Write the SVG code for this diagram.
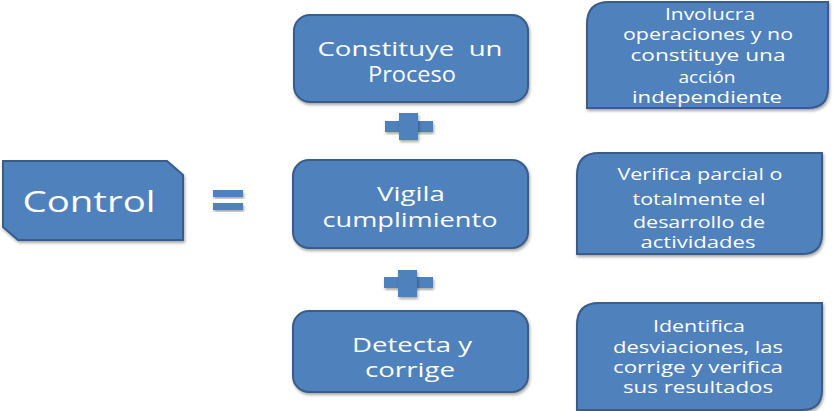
<svg xmlns="http://www.w3.org/2000/svg" width="836" height="411" viewBox="0 0 836 411">
<defs>
<filter id="sh" x="-10%" y="-10%" width="130%" height="130%">
<feDropShadow dx="1" dy="2" stdDeviation="1.5" flood-color="#000" flood-opacity="0.35"/>
</filter>
</defs>
<style>
.box{fill:#4f81bd;stroke:#385d8a;stroke-width:2;filter:url(#sh)}
.op{fill:#4f81bd;filter:url(#sh)}
text{font-family:"Open Sans","Noto Sans","Liberation Sans",sans-serif;fill:#fff;text-anchor:middle}
.m{font-size:20px}
.s{font-size:16px}
</style>
<rect width="836" height="411" fill="#fff"/>
<g id="control">
<path class="box" d="M3 161 H167 L183 175 V240 H18 L3 227 Z"/>
<text x="89" y="212" style="font-size:30px" textLength="133" lengthAdjust="spacingAndGlyphs">Control</text>
</g>
<g id="equals">
<rect class="op" x="213" y="190" width="30" height="7"/>
<rect class="op" x="213" y="203" width="30" height="7"/>
</g>
<g id="proceso">
<rect class="box" x="294" y="15" width="234" height="87" rx="16"/>
<text class="m" x="410" y="56" style="white-space:pre" textLength="185" lengthAdjust="spacingAndGlyphs">Constituye  un</text>
<text class="m" x="412" y="82" style="font-size:21px" textLength="88" lengthAdjust="spacingAndGlyphs">Proceso</text>
</g>
<g id="plus1">
<rect class="op" x="385" y="121" width="48" height="11"/>
<rect class="op" x="399" y="113" width="19" height="27"/>
</g>
<g id="vigila">
<rect class="box" x="293" y="160" width="235" height="88" rx="16"/>
<text class="m" x="411" y="201" textLength="68" lengthAdjust="spacingAndGlyphs">Vigila</text>
<text class="m" x="410" y="227" textLength="175" lengthAdjust="spacingAndGlyphs">cumplimiento</text>
</g>
<g id="plus2">
<rect class="op" x="384" y="277" width="49" height="11"/>
<rect class="op" x="398" y="270" width="19" height="27"/>
</g>
<g id="detecta">
<rect class="box" x="293" y="311" width="235" height="81" rx="16"/>
<text class="m" x="412" y="352" textLength="120" lengthAdjust="spacingAndGlyphs">Detecta y</text>
<text class="m" x="410" y="377" textLength="90" lengthAdjust="spacingAndGlyphs">corrige</text>
</g>
<g id="involucra">
<path class="box" d="M609 2 H828 V88 Q828 108 808 108 H587 V24 Q587 2 609 2 Z"/>
<text class="s" x="710" y="20" textLength="90" lengthAdjust="spacingAndGlyphs">Involucra</text>
<text class="s" x="708" y="40" textLength="170" lengthAdjust="spacingAndGlyphs">operaciones y no</text>
<text class="s" x="708" y="61" textLength="155" lengthAdjust="spacingAndGlyphs">constituye una</text>
<text class="s" x="707" y="83" textLength="57" lengthAdjust="spacingAndGlyphs">acción</text>
<text class="s" x="707" y="103" textLength="150" lengthAdjust="spacingAndGlyphs">independiente</text>
</g>
<g id="verifica">
<path class="box" d="M599 153 H822 V234 Q822 254 802 254 H577 V175 Q577 153 599 153 Z"/>
<text class="s" x="700" y="180" textLength="165" lengthAdjust="spacingAndGlyphs">Verifica parcial o</text>
<text class="s" x="699" y="205" textLength="133" lengthAdjust="spacingAndGlyphs">totalmente el</text>
<text class="s" x="699" y="228" textLength="132" lengthAdjust="spacingAndGlyphs">desarrollo de</text>
<text class="s" x="698" y="248" textLength="115" lengthAdjust="spacingAndGlyphs">actividades</text>
</g>
<g id="identifica">
<path class="box" d="M599 303 H822 V390 Q822 410 802 410 H577 V325 Q577 303 599 303 Z"/>
<text class="s" x="699" y="332" textLength="92" lengthAdjust="spacingAndGlyphs">Identifica</text>
<text class="s" x="698" y="353" textLength="170" lengthAdjust="spacingAndGlyphs">desviaciones, las</text>
<text class="s" x="698" y="373" textLength="170" lengthAdjust="spacingAndGlyphs">corrige y verifica</text>
<text class="s" x="698" y="393" textLength="150" lengthAdjust="spacingAndGlyphs">sus resultados</text>
</g>
<g id="connectors"/>
</svg>
